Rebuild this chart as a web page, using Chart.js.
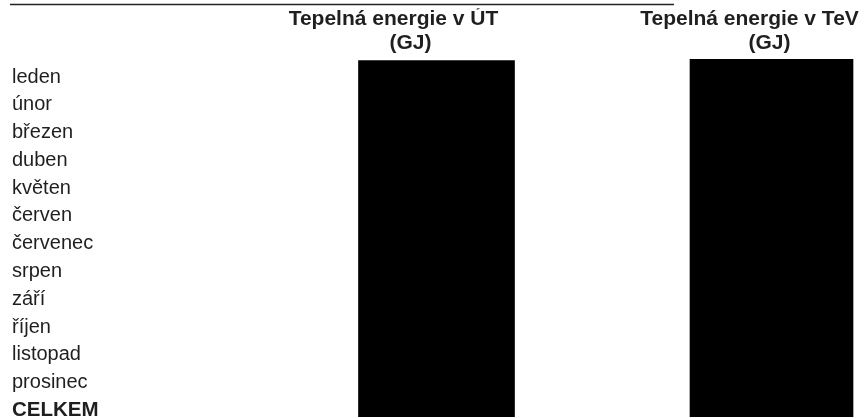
<!DOCTYPE html>
<html><head><meta charset="utf-8">
<script src="https://cdn.jsdelivr.net/npm/chart.js@4/dist/chart.umd.min.js"></script>
<style>html,body{margin:0;padding:0;background:#fff}canvas{display:block}</style>
</head><body>
<canvas id="c" width="864" height="418"></canvas>
<script>
// Row labels (months + total)
const rowLabels = ['leden','únor','březen','duben','květen','červen','červenec','srpen','září','říjen','listopad','prosinec','CELKEM'];
// Column headers (two lines each)
const columnHeaders = ['Tepelná energie v ÚT','Tepelná energie v TeV'];
const columnUnits = ['(GJ)','(GJ)'];
// Column index on the x scale
const columnIndex = [1, 2];
// Values are redacted in the source: black blocks spanning the rows (row units, 0 = leden)
const redactedFrom = [-0.59, -0.64];
const redactedTo = [12.24, 12.24];

const FONT = "'Liberation Sans', Arial, Helvetica, sans-serif";
const TEXT = '#1f1f1f';

const topRule = {
  id: 'topRule',
  afterDraw(chart) {
    const c = chart.ctx;
    c.save();
    c.strokeStyle = '#222';
    c.lineWidth = 1.6;
    c.beginPath();
    c.moveTo(10, 4.5);
    c.lineTo(674, 4.5);
    c.stroke();
    c.restore();
  }
};

const thickness = [156, 163];
const datasets = columnIndex.map((ci, i) => ({
  label: columnHeaders[i] + ' ' + columnUnits[i],
  data: [{ x: ci, y: [redactedFrom[i], redactedTo[i]] }],
  backgroundColor: '#000',
  borderWidth: 0,
  barThickness: thickness[i],
  grouped: false
}));

const xBase = {
  type: 'linear', position: 'top', min: 0.4791, max: 2.2761, offset: false,
  grid: { display: false, drawTicks: false }, border: { display: false }
};
const headFont = { family: FONT, size: 21, weight: 'bold', lineHeight: 1.1 };

new Chart(document.getElementById('c'), {
  type: 'bar',
  data: { datasets },
  plugins: [topRule],
  options: {
    responsive: false,
    animation: false,
    devicePixelRatio: 1,
    layout: { padding: { top: 8.15, left: 12, right: 0, bottom: 0 } },
    plugins: { legend: { display: false }, tooltip: { enabled: false }, title: { display: false } },
    scales: {
      x: Object.assign({}, xBase, {
        weight: 1,
        afterBuildTicks: s => { s.ticks = [{ value: 0.9224 }, { value: 1.9940 }]; },
        ticks: { padding: 0, autoSkip: false, maxRotation: 0, color: TEXT, font: headFont,
                 callback: (v, i) => columnUnits[i] }
      }),
      xHead: Object.assign({}, xBase, {
        axis: 'x',
        weight: 2,
        afterBuildTicks: s => { s.ticks = [{ value: 0.8716 }, { value: 1.9343 }]; },
        ticks: { padding: 0, autoSkip: false, maxRotation: 0, color: TEXT, font: headFont,
                 callback: (v, i) => columnHeaders[i] }
      }),
      y: {
        type: 'linear', reverse: true, min: -0.8155, max: 12.237, offset: false,
        grid: { display: false, drawTicks: false }, border: { display: false },
        afterBuildTicks: s => { s.ticks = rowLabels.map((_, i) => ({ value: i })); },
        afterFit: s => { s.width = 250; },
        ticks: {
          crossAlign: 'far', padding: 0, autoSkip: false, color: TEXT,
          callback: v => rowLabels[v],
          font: ctx => (ctx.index === rowLabels.length - 1
            ? { family: FONT, size: 20.5, weight: 'bold', lineHeight: 0.1 }
            : { family: FONT, size: 20, weight: 'normal', lineHeight: 0.1 })
        }
      }
    }
  }
});
</script>
</body></html>
